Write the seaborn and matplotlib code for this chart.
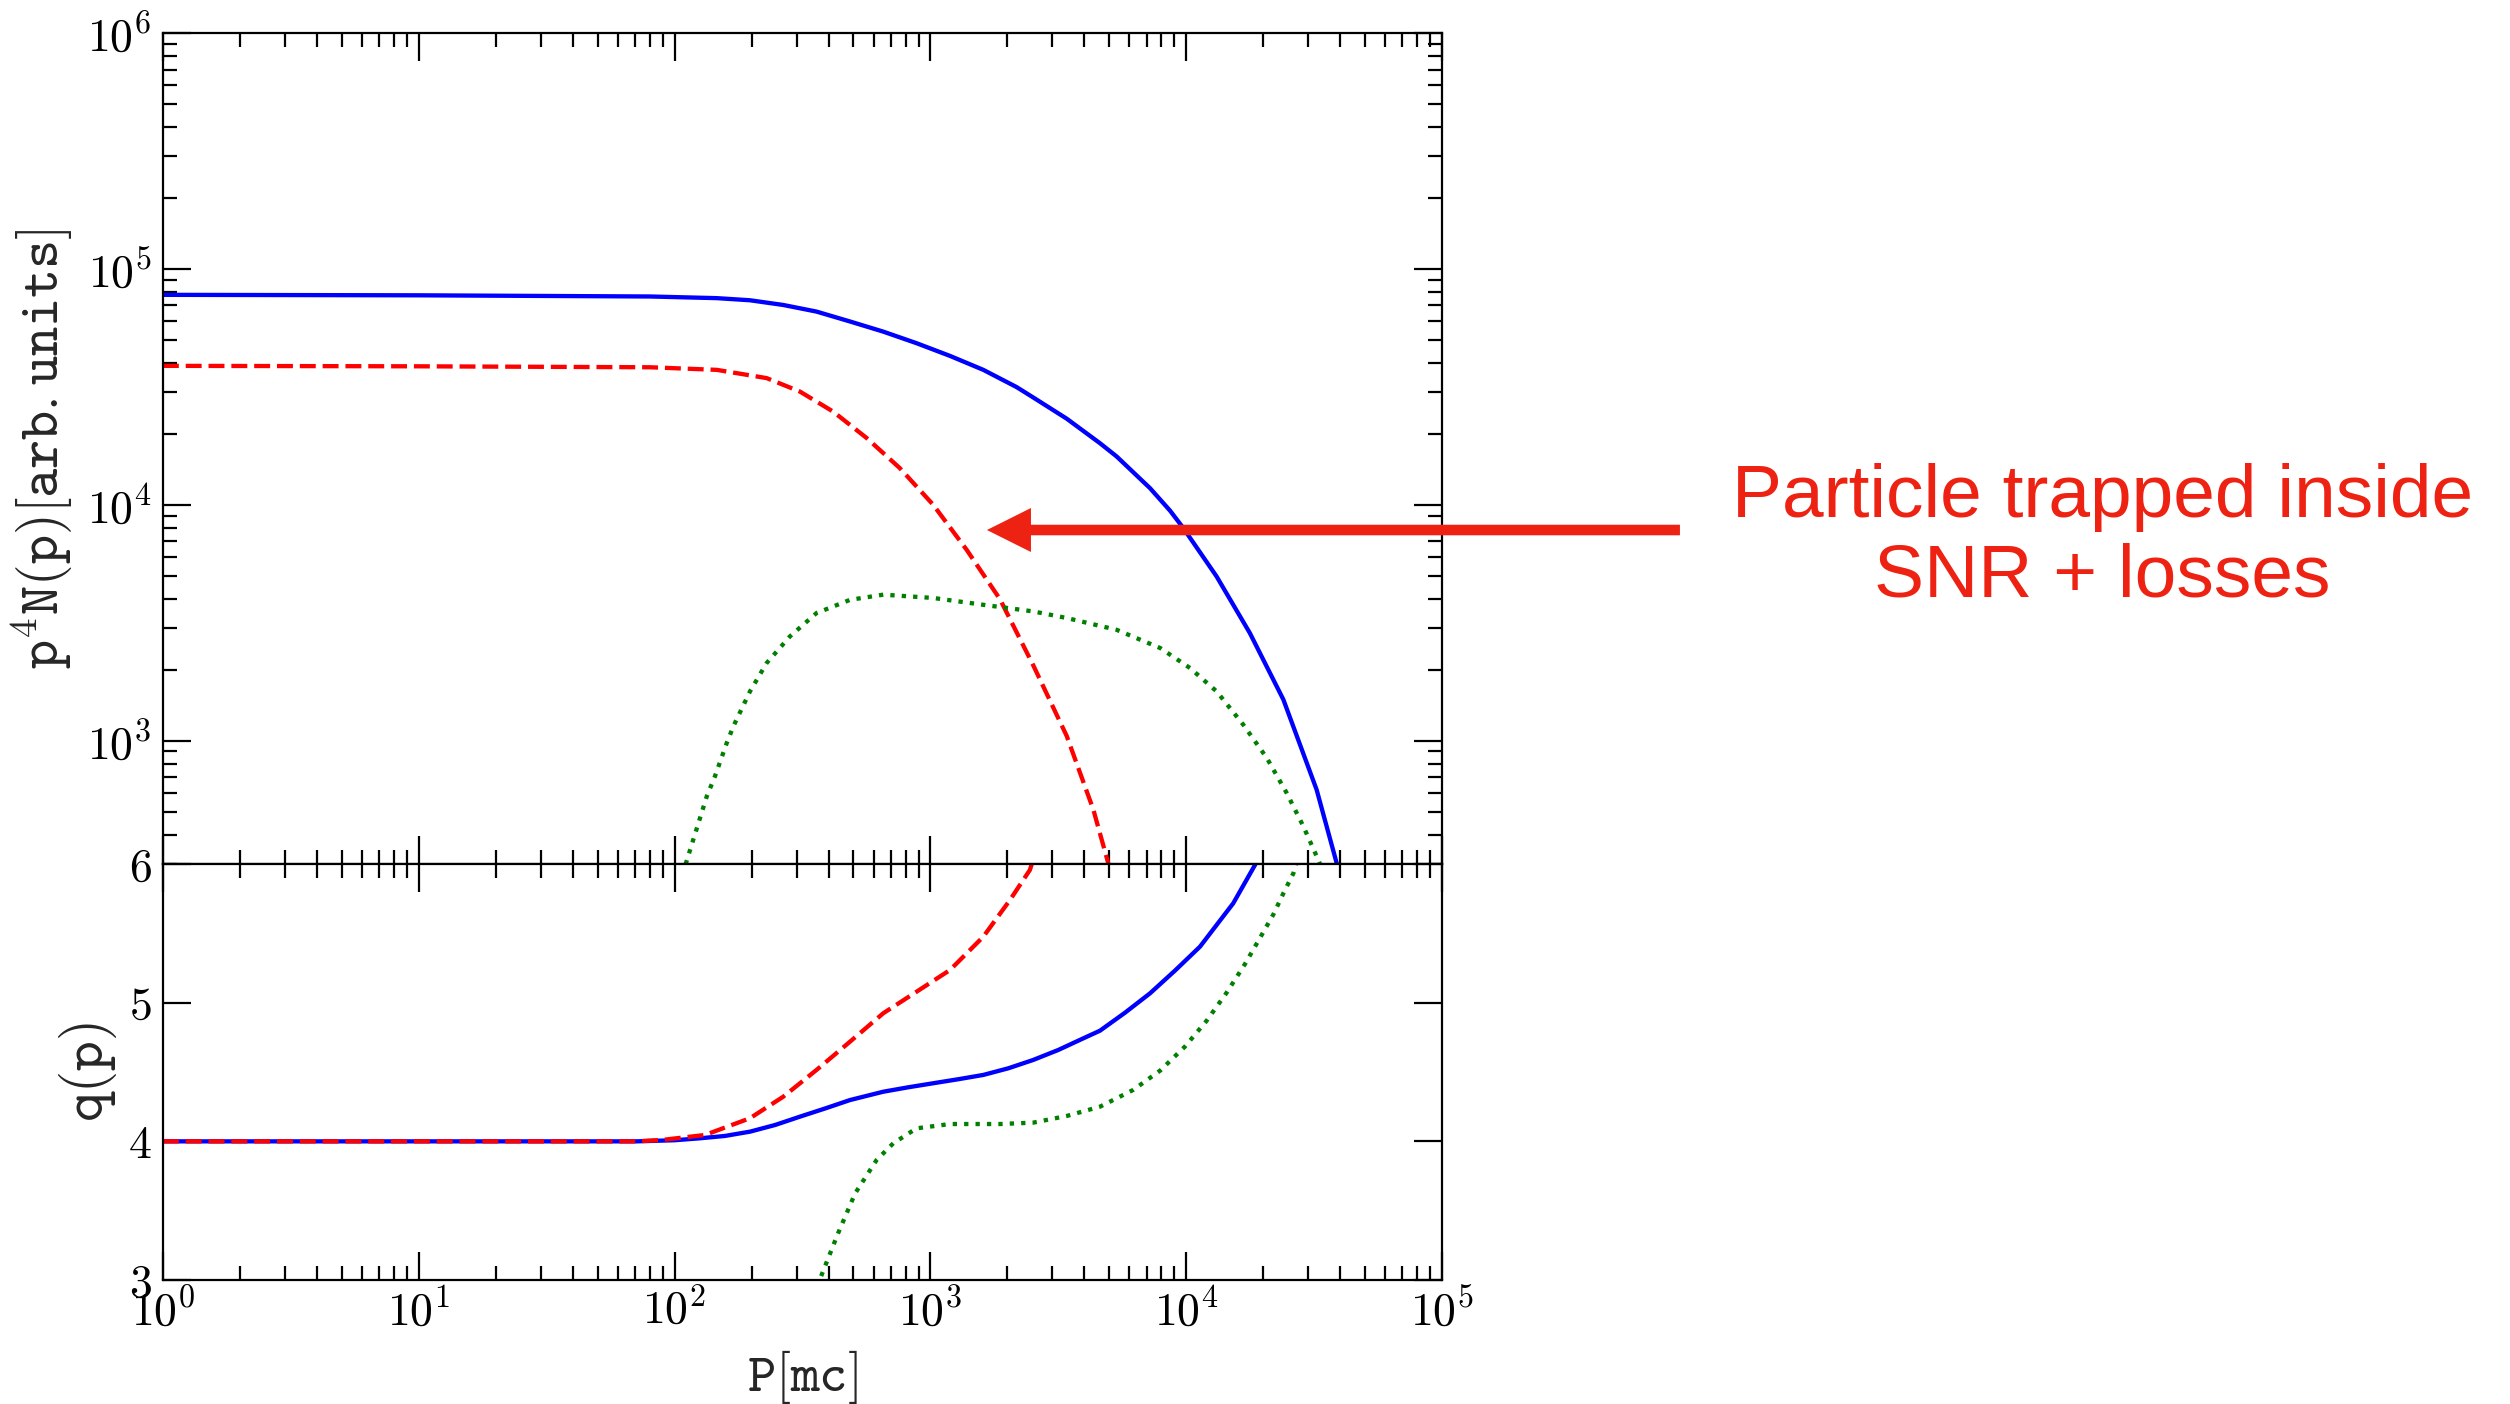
import numpy as np
import matplotlib
matplotlib.use("Agg")
import matplotlib.pyplot as plt
import seaborn as sns
from matplotlib.ticker import LogLocator, FixedLocator, FuncFormatter, NullFormatter

# ---------------- data ----------------
# log10 of momentum P [mc] and log10 of p^4 N(p) [arb. units]
top_blue_logp = [0.0, 1.0, 1.904, 2.165, 2.295, 2.425, 2.555, 2.686, 2.816, 2.946, 3.077,
                 3.207, 3.337, 3.402, 3.533, 3.663, 3.728, 3.859, 3.937, 3.989, 4.119,
                 4.249, 4.380, 4.510, 4.588, 4.620]
top_blue_logN = [4.890, 4.888, 4.883, 4.876, 4.867, 4.847, 4.819, 4.777, 4.734, 4.685, 4.631,
                 4.572, 4.499, 4.455, 4.365, 4.261, 4.205, 4.070, 3.975, 3.901, 3.696,
                 3.456, 3.174, 2.792, 2.482, 2.350]

top_red_logp = [0.0, 1.0, 1.904, 2.165, 2.360, 2.490, 2.620, 2.751, 2.881, 3.011, 3.142,
                3.272, 3.402, 3.533, 3.637, 3.695, 3.720]
top_red_logN = [4.589, 4.587, 4.583, 4.572, 4.537, 4.480, 4.395, 4.283, 4.155, 4.000, 3.809,
                3.600, 3.320, 3.020, 2.708, 2.482, 2.380]

top_green_logp = [2.030, 2.047, 2.126, 2.158, 2.204, 2.230, 2.295, 2.360, 2.451, 2.555, 2.686,
                  2.816, 3.011, 3.207, 3.402, 3.533, 3.728, 3.898, 4.015, 4.119, 4.223,
                  4.315, 4.393, 4.458, 4.510, 4.530]
top_green_logN = [2.430, 2.489, 2.764, 2.849, 2.990, 3.061, 3.209, 3.329, 3.442, 3.541, 3.597,
                  3.619, 3.605, 3.576, 3.548, 3.520, 3.470, 3.393, 3.308, 3.209, 3.068,
                  2.927, 2.778, 2.637, 2.510, 2.460]

# log10 of momentum and spectral slope q(p)
bot_blue_logp = [0.0, 1.0, 1.85, 2.0, 2.099, 2.197, 2.295, 2.393, 2.490, 2.590, 2.686,
                 2.816, 2.914, 3.011, 3.109, 3.207, 3.305, 3.402, 3.500, 3.598, 3.663,
                 3.761, 3.859, 3.956, 4.054, 4.184, 4.269, 4.290]
bot_blue_q = [4.0, 4.0, 4.0, 4.008, 4.022, 4.039, 4.070, 4.118, 4.178, 4.238, 4.298,
              4.358, 4.390, 4.419, 4.448, 4.479, 4.527, 4.587, 4.659, 4.743, 4.798,
              4.928, 5.068, 5.231, 5.404, 5.717, 5.993, 6.070]

bot_red_logp = [0.0, 1.0, 1.85, 1.95, 2.119, 2.295, 2.425, 2.555, 2.686, 2.816, 2.946,
                3.077, 3.207, 3.311, 3.389, 3.400]
bot_red_q = [4.0, 4.0, 4.0, 4.010, 4.046, 4.167, 4.322, 4.515, 4.719, 4.924, 5.079,
             5.236, 5.476, 5.740, 5.957, 6.020]

bot_green_logp = [2.560, 2.572, 2.639, 2.706, 2.790, 2.855, 2.946, 3.077, 3.272, 3.402,
                  3.533, 3.663, 3.793, 3.898, 3.995, 4.080, 4.158, 4.230, 4.295, 4.341,
                  4.380, 4.419, 4.430]
bot_green_q = [2.950, 3.023, 3.336, 3.625, 3.866, 3.986, 4.094, 4.125, 4.125, 4.135,
               4.183, 4.250, 4.371, 4.510, 4.683, 4.870, 5.072, 5.279, 5.488, 5.637,
               5.789, 5.933, 6.000]

top_yticks = [1e3, 1e4, 1e5, 1e6]
bot_yticks = [3, 4, 5, 6]
xticks = [1e0, 1e1, 1e2, 1e3, 1e4, 1e5]

annotation_text = "Particle trapped inside\nSNR + losses"
annot_color = "#EE2212"

# ---------------- style ----------------
sns.set_theme(style="ticks")
plt.rcParams.update({
    "mathtext.fontset": "cm",
    "axes.edgecolor": "black",
    "axes.linewidth": 1.6,
    "xtick.color": "black",
    "ytick.color": "black",
    "axes.formatter.use_mathtext": True,
})
plt.rcParams["font.family"] = ["cmr10", "DejaVu Serif"]

fig = plt.figure(figsize=(25.10, 14.04), dpi=100)
fig.patch.set_facecolor("white")
ax1 = fig.add_axes([0.0649, 0.3846, 0.5096, 0.5919])
ax2 = fig.add_axes([0.0649, 0.0883, 0.5096, 0.2963])

LW = 3.1
def draw(ax, lp, v, color, ls, logy):
    x = 10 ** np.asarray(lp)
    y = 10 ** np.asarray(v) if logy else np.asarray(v)
    sns.lineplot(x=x, y=y, ax=ax, color=color, linewidth=LW, linestyle=ls,
                 estimator=None, sort=False)

draw(ax1, top_blue_logp, top_blue_logN, "blue", "-", True)
draw(ax1, top_red_logp, top_red_logN, "red", "--", True)
draw(ax1, top_green_logp, top_green_logN, "green", ":", True)

draw(ax2, bot_blue_logp, bot_blue_q, "blue", "-", False)
draw(ax2, bot_red_logp, bot_red_q, "red", "--", False)
draw(ax2, bot_green_logp, bot_green_q, "green", ":", False)

pow_fmt = FuncFormatter(lambda v, p: r"$10^{%d}$" % int(round(np.log10(v))))

for ax in (ax1, ax2):
    ax.set_xscale("log")
    ax.set_xlim(1, 1e5)
    ax.xaxis.set_major_locator(FixedLocator(xticks))
    ax.xaxis.set_minor_locator(LogLocator(base=10, subs=np.arange(2, 10), numticks=50))
    ax.xaxis.set_minor_formatter(NullFormatter())
    ax.tick_params(which="both", direction="in", top=True, right=True, width=1.6,
                   labelsize=33, pad=8)
    ax.tick_params(which="major", length=20)
    ax.tick_params(which="minor", length=10)
    for s in ax.spines.values():
        s.set_linewidth(1.6)
        s.set_color("black")
    ax.set_facecolor("white")
    ax.grid(False)

ax1.set_yscale("log")
ax1.set_ylim(300, 1e6)
ax1.yaxis.set_major_locator(FixedLocator(top_yticks))
ax1.yaxis.set_minor_locator(LogLocator(base=10, subs=np.arange(2, 10), numticks=50))
ax1.yaxis.set_major_formatter(pow_fmt)
ax1.yaxis.set_minor_formatter(NullFormatter())
ax1.tick_params(labelbottom=False)
ax1.set_xlabel("")
ax1.set_ylabel(r"$\mathtt{p^4N(p)[arb.units]}$", fontsize=40)
ax1.yaxis.set_label_coords(-0.068, 0.5)

ax2.set_ylim(3, 6)
ax2.yaxis.set_major_locator(FixedLocator(bot_yticks))
ax2.yaxis.set_major_formatter(FuncFormatter(lambda v, p: r"$%d$" % int(round(v))))
ax2.xaxis.set_major_formatter(pow_fmt)
ax2.tick_params(axis="x", pad=6)
ax2.set_ylabel(r"$\mathtt{q(p)}$", fontsize=41)
ax2.yaxis.set_label_coords(-0.034, 0.5)
ax2.set_xlabel(r"$\mathtt{P[mc]}$", fontsize=39)
ax2.xaxis.set_label_coords(0.5, -0.163)
ax2.xaxis.label.set_va("top")

# annotation arrow and text (figure coordinates)
ax1.annotate("", xy=(0.3932, 0.6225), xycoords="figure fraction",
             xytext=(0.6693, 0.6225), textcoords="figure fraction",
             arrowprops=dict(facecolor=annot_color, edgecolor="none", width=7.6,
                             headwidth=31.7, headlength=31.7, shrink=0.0),
             annotation_clip=False)
fig.text(0.8375, 0.6175, annotation_text, color=annot_color, fontsize=54,
         family=["Liberation Sans", "DejaVu Sans"], ha="center", va="center",
         multialignment="center", linespacing=1.2)

fig.savefig("out.png", dpi=100, facecolor="white")
